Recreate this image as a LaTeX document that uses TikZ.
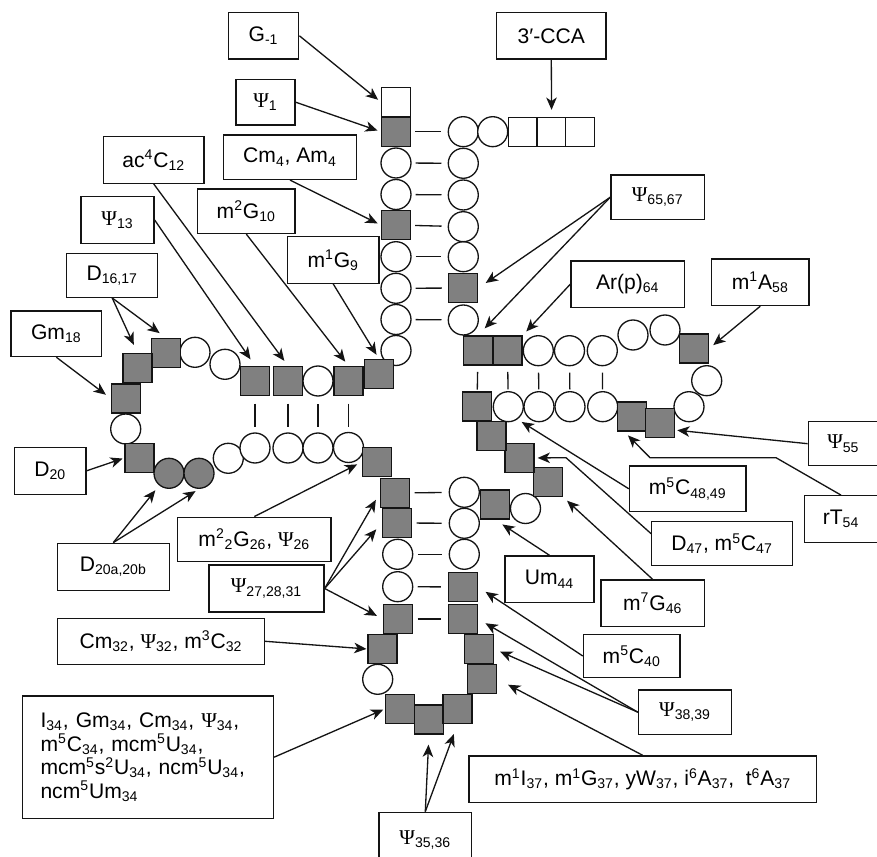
\documentclass[tikz,border=0pt]{standalone}
\usepackage{fontspec}
\setmainfont{Liberation Sans}
\newfontfamily\psifont{Liberation Serif}
\usepackage{tikz}
\usetikzlibrary{arrows.meta, calc}
\definecolor{modgray}{RGB}{128,128,128}
\definecolor{mydark}{RGB}{20,20,20}
\newcommand{\psu}{{\psifont Ψ}}
\newcommand{\subs}[1]{\textsubscript{#1}}
\newcommand{\supr}[1]{\textsuperscript{#1}}
\tikzset{
  nt/.style={circle, draw=mydark, fill=white, minimum size=0.6cm,
    inner sep=0pt, line width=0.75pt},
  modnt/.style={nt, fill=modgray},
  modsq/.style={rectangle, draw=mydark, fill=modgray, minimum size=0.58cm,
    inner sep=0pt, line width=0.75pt},
  plainsq/.style={modsq, fill=white},
  lbl/.style={rectangle, draw=mydark, fill=white, inner sep=0pt,
    minimum height=0.92cm, line width=0.75pt, align=center,
    font=\fontsize{12}{13.5}\selectfont},
  arrow/.style={-{Stealth[length=7pt, width=6pt, inset=2pt]}, line width=0.75pt, color=mydark},
  bp/.style={line width=0.75pt, color=mydark}
}

\begin{document}
\begin{tikzpicture}[x=0.02cm, y=-0.02cm]
  \useasboundingbox (0,0) rectangle (877,857);
  % Unmodified nucleotides
  \foreach \n/\x/\y in {2/396/163, 3/396/194.5, 5/396/256.7, 6/396/288.3, 7/396/319.5,
      8/396/350.5, 11/318/381, 14/225/364.3, 15/195/352.3, 19/125.7/429,
      21/228.3/458.3, 22/255/448, 23/288/448, 24/318/448, 25/348.5/447.5,
      29/397.7/554.3, 30/397.7/586.7, 33/377.7/679.3, 41/464.3/554.3,
      42/464.3/523.3, 43/464.3/492.3, 45/525.5/508.5, 50/508.3/406.7,
      51/539/406.7, 52/570/406.7, 53/602.7/406.7, 56/689/406.7, 57/706.7/380.7,
      59/665/330, 60/633/335, 61/602.3/350.7, 62/569.5/350.7, 63/538.3/350.7,
      66/463.3/320, 68/463.3/256.7, 69/463.3/226.7, 70/463.3/195,
      71/463.3/163.3, 72/463.3/131.7, 73/492.7/131.7}
    \node[nt] (n\n) at (\x,\y) {};
  % Modified nucleotides
  \foreach \n/\x/\y in {1/396/131.7, 4/396/225, 9/379/374, 10/348.5/381, 12/288/381,
      13/255/381, 16/166/353, 17/137.5/368, 18/126/398.5, 20/139.5/458,
      26/377/462, 27/395/493, 28/397/523, 31/398/619, 32/382.5/649, 34/400/709,
      35/429/719.5, 36/457.5/709, 37/482/679, 38/479/649, 39/463/619, 40/463/587,
      44/495/504.5, 46/548/482, 47/519.5/458, 48/491.5/436, 49/477/406.5,
      54/632/416.5, 55/660/423, 58/694/348.5, 64/507.5/350.5, 65/478/350.5,
      67/463.3/288}
    \node[modsq] (n\n) at (\x,\y) {};
  \node[modnt] (n20a) at (169,473.3) {};
  \node[modnt] (n20b) at (199,473.3) {};
  % G-1 and 3'-CCA end
  \node[plainsq] (gneg) at (396,102) {};
  \node[plainsq] (cca1) at (523.2,132) {};
  \node[plainsq] (cca2) at (551.6,132) {};
  \node[plainsq] (cca3) at (580,132) {};
  % Base pairs
  \foreach \a/\b in {1/72, 2/71, 3/70, 4/69, 5/68, 6/67, 7/66}
    \draw[bp, shorten <=2.3pt, shorten >=3.5pt] (n\a) -- (n\b);
  \foreach \a/\b in {10/25, 11/24, 12/23, 13/22}
    \draw[bp, shorten <=4.2pt, shorten >=2.8pt] (n\a) -- (n\b);
  \foreach \a/\b in {27/43, 28/42, 29/41, 30/40, 31/39}
    \draw[bp, shorten <=2.5pt, shorten >=4pt] (n\a) -- (n\b);
  \foreach \a/\b in {65/49, 64/50, 63/51, 62/52, 61/53}
    \draw[bp, shorten <=3.6pt, shorten >=1pt] (n\a) -- (n\b);

  % Labels
  \node[lbl, minimum width=1.41cm, minimum height=0.93cm] (gm1) at (263.5,35.8) {G\subs{-1}};
  \node[lbl, minimum width=2.19cm, minimum height=0.93cm] (cca) at (551.3,35.8) {3′-CCA};
  \node[lbl, minimum width=1.18cm, minimum height=0.91cm] (psi1) at (265.5,102.2) {\psu\subs{1}};
  \node[lbl, minimum width=2.67cm, minimum height=0.89cm] (cm4) at (290,157.2) {Cm\subs{4}, Am\subs{4}};
  \node[lbl, minimum width=2.01cm, minimum height=0.93cm] (ac4c12) at (153.7,160) {ac\supr{4}C\subs{12}};
  \node[lbl, minimum width=1.46cm, minimum height=0.93cm] (psi13) at (117.5,220) {\psu\subs{13}};
  \node[lbl, minimum width=1.82cm, minimum height=0.88cm] (d1617) at (112.2,275.3) {D\subs{16,17}};
  \node[lbl, minimum width=1.81cm, minimum height=0.91cm] (gm18) at (56.3,333.8) {Gm\subs{18}};
  \node[lbl, minimum width=1.95cm, minimum height=0.89cm] (m2g10) at (246.3,211.2) {m\supr{2}G\subs{10}};
  \node[lbl, minimum width=1.83cm, minimum height=0.93cm] (m1g9) at (333.2,260) {m\supr{1}G\subs{9}};
  \node[lbl, minimum width=1.87cm, minimum height=0.89cm] (psi6567) at (657.7,197.2) {\psu\subs{65,67}};
  \node[lbl, minimum width=2.27cm, minimum height=0.93cm] (arp64) at (627.7,284.2) {Ar(p)\subs{64}};
  \node[lbl, minimum width=1.95cm, minimum height=0.93cm] (m1a58) at (760.3,282.3) {m\supr{1}A\subs{58}};
  \node[lbl, minimum width=1.43cm, minimum height=0.94cm] (d20) at (50.2,470.8) {D\subs{20}};
  \node[lbl, minimum width=2.24cm, minimum height=0.95cm] (d20ab) at (113.3,567) {D\subs{20a,20b}};
  \node[lbl, minimum width=3.07cm, minimum height=0.89cm] (m22g26) at (254.3,539.5) {m\supr{2}\subs{2}G\subs{26}, \psu\subs{26}};
  \node[lbl, minimum width=2.30cm, minimum height=0.94cm] (psi272831) at (266.5,588.5) {\psu\subs{27,28,31}};
  \node[lbl, minimum width=4.14cm, minimum height=0.92cm] (cm32) at (161,641.3) {Cm\subs{32}, \psu\subs{32}, m\supr{3}C\subs{32}};
  \node[lbl, align=left, text width=4.3cm, inner xsep=0.36cm, minimum height=2.45cm] (i34) at (148,757.2)
    {I\subs{34}, Gm\subs{34}, Cm\subs{34}, \psu\subs{34},\\
     m\supr{5}C\subs{34}, mcm\supr{5}U\subs{34},\\
     mcm\supr{5}s\supr{2}U\subs{34}, ncm\supr{5}U\subs{34},\\
     ncm\supr{5}Um\subs{34}};
  \node[lbl, minimum width=1.85cm, minimum height=1.11cm] (psi3536) at (425.3,840) {\psu\subs{35,36}};
  \node[lbl, minimum width=6.95cm, minimum height=0.93cm] (m1i37) at (642.7,779.2)
    {m\supr{1}I\subs{37}, m\supr{1}G\subs{37}, yW\subs{37}, i\supr{6}A\subs{37}, \ t\supr{6}A\subs{37}};
  \node[lbl, minimum width=1.86cm, minimum height=0.89cm] (psi3839) at (685,712.2) {\psu\subs{38,39}};
  \node[lbl, minimum width=1.93cm, minimum height=0.87cm] (m5c40) at (631.7,656) {m\supr{5}C\subs{40}};
  \node[lbl, minimum width=2.07cm, minimum height=0.93cm] (m7g46) at (652.7,603.3) {m\supr{7}G\subs{46}};
  \node[lbl, minimum width=1.78cm, minimum height=0.93cm] (um44) at (549.5,579.2) {Um\subs{44}};
  \node[lbl, minimum width=2.81cm, minimum height=0.88cm] (d47) at (722,543.7) {D\subs{47}, m\supr{5}C\subs{47}};
  \node[lbl, minimum width=2.33cm, minimum height=0.91cm] (m5c4849) at (687.7,488.8) {m\supr{5}C\subs{48,49}};
  \node[lbl, minimum width=1.40cm, minimum height=0.88cm] (psi55) at (843.3,443.7) {\psu\subs{55}};
  \node[lbl, minimum width=1.47cm, minimum height=0.93cm] (rt54) at (841,519) {rT\subs{54}};

  % Bends of the elbow connectors
  \coordinate (dbend) at (566,457.7);
  \coordinate (rtbendA) at (776,457.7);
  \coordinate (rtbendB) at (650,457.7);

  % Arrows
  \draw[arrow, shorten >=2pt] (gm1.east) -- (gneg.west);
  \draw[arrow, shorten >=4pt] (cca.south) -- (cca2.north);
  \draw[arrow, shorten >=2pt] (psi1.east) -- (n1.west);
  \draw[arrow, shorten >=2pt] (cm4.south) -- (n4.west);
  \draw[arrow, shorten >=3.5pt] (ac4c12.south) -- (n12.north);
  \draw[arrow, shorten >=4.5pt] (psi13.east) -- (n13.north);
  \draw[arrow, shorten >=5pt] (d1617.south) -- (n17.north);
  \draw[arrow, shorten >=4.5pt] (d1617.south) -- (n16.north);
  \draw[arrow, shorten >=3.5pt] (gm18.south) -- (n18.west);
  \draw[arrow, shorten >=3pt] (m2g10.south) -- (n10.north);
  \draw[arrow, shorten >=2.7pt] (m1g9.south) -- (n9.north);
  \draw[arrow, shorten >=5pt] (psi6567.west) -- (n67.east);
  \draw[arrow, shorten >=5.5pt] (psi6567.west) -- (n65.north);
  \draw[arrow, shorten >=3pt] (arp64.west) -- (n64.north east);
  \draw[arrow, shorten >=3pt] (m1a58.south) -- (n58.east);
  \draw[arrow, shorten >=1pt] (d20.east) -- (n20.west);
  \draw[arrow, shorten >=3.5pt] (d20ab.north) -- (n20a);
  \draw[arrow, shorten >=2.3pt] (d20ab.north) -- (n20b.south);
  \draw[arrow, shorten >=3pt] (m22g26.north) -- (n26.west);
  \draw[arrow, shorten >=4.5pt] (psi272831.east) -- (n27.west);
  \draw[arrow, shorten >=4.8pt] (psi272831.east) -- (n28.west);
  \draw[arrow, shorten >=3.8pt] (psi272831.east) -- (n31.west);
  \draw[arrow, shorten >=0.5pt] (cm32.east) -- (n32.west);
  \draw[arrow, shorten >=1pt] (i34.east) -- (n34.west);
  \draw[arrow, shorten >=5.7pt] (psi3536.north) -- (n35.south);
  \draw[arrow, shorten >=6pt] (psi3536.north) -- (n36.south);
  \draw[arrow, shorten >=7pt] (m1i37.north) -- (n37.east);
  \draw[arrow, shorten >=3.7pt] (psi3839.west) -- (n38.east);
  \draw[arrow, shorten >=4.8pt] (psi3839.west) -- (n39.east);
  \draw[arrow, shorten >=5pt] (m5c40.west) -- (n40.east);
  \draw[arrow, shorten >=3pt] (m7g46.north) -- (n46.south east);
  \draw[arrow, shorten >=5pt] (um44.north) -- (n44.south);
  \draw[arrow, shorten >=1.7pt] ($(d47.west)+(0,-10)$) -- (dbend) -- (n47.east);
  \draw[arrow, shorten >=2.8pt] (m5c4849.west) -- (n50.-54);
  \draw[arrow, shorten >=1.2pt] (psi55.west) -- (n55.-25);
  \draw[arrow, shorten >=3pt] (rt54.north) -- (rtbendA) -- (rtbendB) -- (n54.-117);
\end{tikzpicture}
\end{document}
